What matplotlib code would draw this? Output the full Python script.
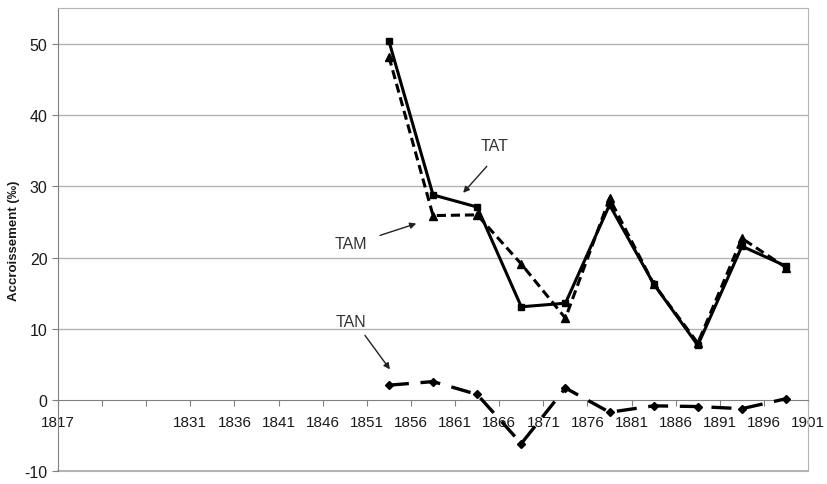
import numpy as np
import matplotlib.pyplot as plt

plt.rcParams['font.family'] = ['Liberation Sans', 'DejaVu Sans']
plt.rcParams['axes.unicode_minus'] = False

# Axe des abscisses (catégories, étiquettes telles que sur l'original)
tick_years = [1816, 1821, 1826, 1831, 1836, 1841, 1846, 1851, 1856, 1861,
              1866, 1871, 1876, 1881, 1886, 1891, 1896, 1901]
tick_labels = ['1817', '', '', '1831', '1836', '1841', '1846', '1851', '1856',
               '1861', '1866', '1871', '1876', '1881', '1886', '1891', '1896', '1901']

# Milieux des périodes quinquennales
years = [1853.5, 1858.5, 1863.5, 1868.5, 1873.5, 1878.5, 1883.5, 1888.5, 1893.5, 1898.5]

# Taux d'accroissement (‰)
tat = [50.4, 28.8, 27.1, 13.1, 13.6, 27.4, 16.3, 7.7, 21.6, 18.8]
tam = [48.2, 25.9, 26.0, 19.1, 11.5, 28.3, 16.3, 8.0, 22.7, 18.6]
tan = [2.1, 2.6, 0.8, -6.1, 1.7, -1.7, -0.8, -0.9, -1.2, 0.2]

fig = plt.figure(figsize=(8.28, 4.85), dpi=100)
ax = fig.add_axes([0.070, 0.026, 0.906, 0.955])

grid_col = '#b4b4b4'
for v in [10, 20, 30, 40, 50]:
    ax.axhline(v, color=grid_col, lw=1.0, zorder=0)
ax.axhline(-10, color=grid_col, lw=1.5, zorder=0, clip_on=False)

ax.plot(years, tat, color='black', lw=2.2, marker='s', ms=4.5, zorder=4)
ax.plot(years, tam, color='black', lw=2.2, ls=(0, (3, 1.6)), marker='^', ms=5.5, zorder=3)
ax.plot(years, tan, color='black', lw=2.4, ls=(0, (6, 3.5)), marker='D', ms=4.5, zorder=3)

ax.set_xlim(1816, 1901)
ax.set_ylim(-10, 55)

ax.spines['bottom'].set_position(('data', 0))
ax.spines['bottom'].set_color('#808080')
ax.spines['left'].set_color('#808080')
ax.spines['top'].set_color(grid_col)
ax.spines['right'].set_color(grid_col)

ax.set_xticks(tick_years)
ax.set_xticklabels(tick_labels)
ax.set_yticks([-10, 0, 10, 20, 30, 40, 50])
ax.tick_params(axis='x', direction='out', length=4, color='#808080', labelsize=11,
               pad=7, labelcolor='#1a1a1a')
ax.tick_params(axis='y', direction='out', length=4, color='#808080', labelsize=11.5,
               labelcolor='#1a1a1a')
for lab in ax.get_xticklabels():
    lab.set_bbox(dict(facecolor='white', edgecolor='none', pad=1))

ax.set_ylabel('Accroissement (‰)', fontsize=9.5, fontweight='bold', color='#1a1a1a', labelpad=3)

arrow = dict(arrowstyle='-|>', color='#222222', lw=1.0, mutation_scale=9)
ax.annotate('', xy=(1861.7, 28.8), xytext=(1864.8, 33.1), arrowprops=arrow)
ax.text(1865.5, 35.7, 'TAT', fontsize=11.5, color='#333333', ha='center', va='center')
ax.annotate('', xy=(1856.9, 24.9), xytext=(1852.2, 23.0), arrowprops=arrow)
ax.text(1849.2, 22.0, 'TAM', fontsize=11.5, color='#333333', ha='center', va='center')
ax.annotate('', xy=(1853.8, 4.0), xytext=(1850.6, 9.4), arrowprops=arrow)
ax.text(1849.2, 11.1, 'TAN', fontsize=11.5, color='#333333', ha='center', va='center')

fig.savefig('out.png', dpi=100)
